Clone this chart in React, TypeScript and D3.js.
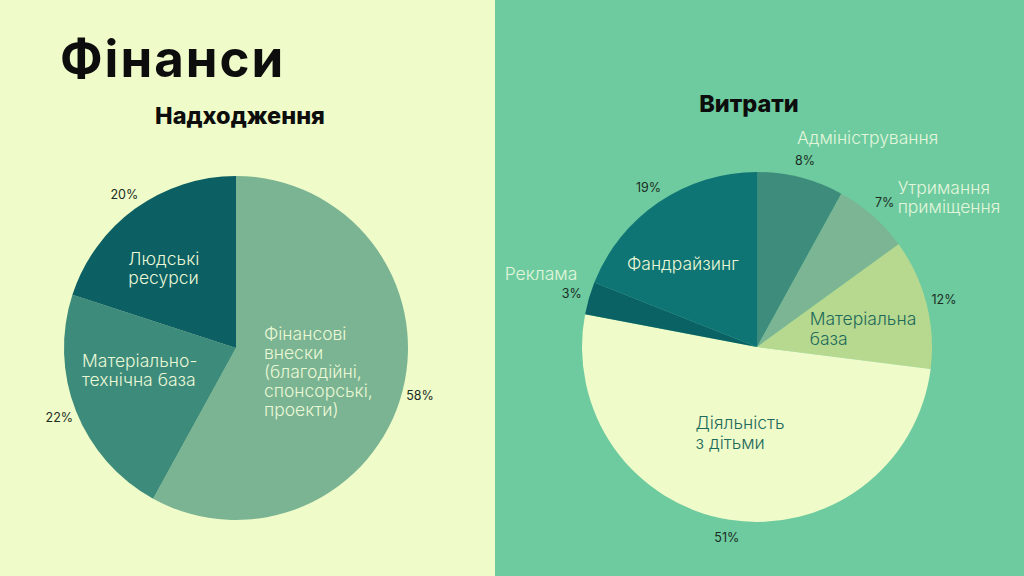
import React from 'react';
import { pie, arc, PieArcDatum } from 'd3';

// Надходження (income) — clockwise from 12 o'clock
const incomeNames = [
  'Фінансові внески (благодійні, спонсорські, проекти)',
  'Матеріально-технічна база',
  'Людські ресурси',
];
const incomeValues = [58, 22, 20];
const incomeLines = [
  ['Фінансові', 'внески', '(благодійні,', 'спонсорські,', 'проекти)'],
  ['Матеріально-', 'технічна база'],
  ['Людські', 'ресурси'],
];

// Витрати (expenses)
const expenseNames = [
  'Адміністрування',
  'Утримання приміщення',
  'Матеріальна база',
  'Діяльність з дітьми',
  'Реклама',
  'Фандрайзинг',
];
const expenseValues = [8, 7, 12, 51, 3, 19];
const expenseLines = [
  ['Адміністрування'],
  ['Утримання', 'приміщення'],
  ['Матеріальна', 'база'],
  ['Діяльність', 'з дітьми'],
  ['Реклама'],
  ['Фандрайзинг'],
];

const pale = '#effbc9';
const green = '#6dcb9f';
const FONT = 'Inter, "Noto Sans", sans-serif';

interface LabelStyle {
  mode: 'inner' | 'outer';
  dx: number;
  dy: number;
  color: string;
}

interface Slice {
  name: string;
  value: number;
  lines: string[];
  fill: string;
  label: LabelStyle;
}

const incomeFills = ['#7ab492', '#3d8b7b', '#0c5f63'];
const incomeLabelStyle: LabelStyle[] = [
  { mode: 'inner', dx: -72, dy: -34, color: '#eaf8d6' },
  { mode: 'inner', dx: -58, dy: -19, color: '#eaf8d6' },
  { mode: 'inner', dx: -47, dy: 0, color: '#eaf8d6' },
];

const expenseFills = ['#3e8c7c', '#7bb593', '#b6d98f', pale, '#0b6265', '#0f7474'];
const expenseLabelStyle: LabelStyle[] = [
  { mode: 'outer', dx: -8, dy: -16, color: '#e3f6dc' },
  { mode: 'outer', dx: 13, dy: -8.5, color: '#e3f6dc' },
  { mode: 'inner', dx: -49, dy: 4.5, color: '#1e6a5b' },
  { mode: 'inner', dx: -45, dy: -21.5, color: '#1e6a5b' },
  { mode: 'outer', dx: -67, dy: -13, color: '#e3f6dc' },
  { mode: 'inner', dx: -71, dy: 10, color: '#eaf8d6' },
];

const incomeSlices: Slice[] = incomeNames.map((name, i) => ({
  name,
  value: incomeValues[i],
  lines: incomeLines[i],
  fill: incomeFills[i],
  label: incomeLabelStyle[i],
}));

const expenseSlices: Slice[] = expenseNames.map((name, i) => ({
  name,
  value: expenseValues[i],
  lines: expenseLines[i],
  fill: expenseFills[i],
  label: expenseLabelStyle[i],
}));

interface PieProps {
  cx: number;
  cy: number;
  radius: number;
  slices: Slice[];
  lineHeight: number;
}

const PieChart: React.FC<PieProps> = ({ cx, cy, radius, slices, lineHeight }) => {
  const arcs = pie<Slice>()
    .sort(null)
    .value((d) => d.value)(slices);

  const shape = arc<PieArcDatum<Slice>>().innerRadius(0).outerRadius(radius);
  const innerPos = arc<PieArcDatum<Slice>>()
    .innerRadius(radius * 0.6)
    .outerRadius(radius * 0.6);
  const outerPos = arc<PieArcDatum<Slice>>()
    .innerRadius(radius + 18)
    .outerRadius(radius + 18);

  return (
    <g transform={`translate(${cx},${cy})`}>
      {arcs.map((a) => (
        <path key={a.data.name} d={shape(a) || ''} fill={a.data.fill} />
      ))}
      {arcs.map((a) => {
        const [px, py] = outerPos.centroid(a);
        return (
          <text
            key={a.data.name + '-pct'}
            x={px}
            y={py}
            textAnchor="middle"
            dominantBaseline="central"
            fontFamily={FONT}
            fontSize={12.5}
            fill="#1c2b24"
          >
            {a.data.value}%
          </text>
        );
      })}
      {arcs.map((a) => {
        const l = a.data.label;
        const [bx, by] = l.mode === 'inner' ? innerPos.centroid(a) : outerPos.centroid(a);
        return (
          <text
            key={a.data.name + '-lbl'}
            x={bx + l.dx}
            y={by + l.dy}
            fontFamily={FONT}
            fontWeight={300}
            fontSize={17.5}
            fill={l.color}
          >
            {a.data.lines.map((line, j) => (
              <tspan key={j} x={bx + l.dx} dy={j === 0 ? 0 : lineHeight}>
                {line}
              </tspan>
            ))}
          </text>
        );
      })}
    </g>
  );
};

const App: React.FC = () => {
  return (
    <svg
      width={1024}
      height={576}
      style={{ position: 'absolute', left: 0, top: 0 }}
    >
      <rect x={0} y={0} width={495} height={576} fill={pale} />
      <rect x={495} y={0} width={529} height={576} fill={green} />

      <text
        x={60}
        y={77}
        fontFamily={FONT}
        fontWeight={700}
        fontSize={51}
        letterSpacing={2}
        fill="#0d0d0d"
      >
        Фінанси
      </text>
      <text
        x={240}
        y={123.5}
        textAnchor="middle"
        fontFamily={FONT}
        fontWeight={800}
        fontSize={23.5}
        fill="#0d0d0d"
      >
        Надходження
      </text>
      <text
        x={749}
        y={111.5}
        textAnchor="middle"
        fontFamily={FONT}
        fontWeight={800}
        fontSize={23.5}
        fill="#0d0d0d"
      >
        Витрати
      </text>

      <PieChart cx={236} cy={348} radius={172} slices={incomeSlices} lineHeight={19} />
      <PieChart cx={757} cy={347} radius={175} slices={expenseSlices} lineHeight={19.5} />
    </svg>
  );
};

export default App;
